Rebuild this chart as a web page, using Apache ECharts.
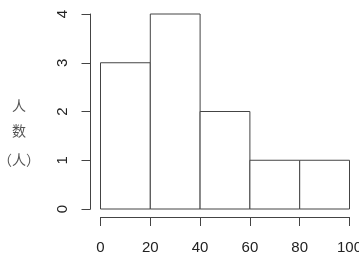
<!DOCTYPE html>
<html><head><meta charset="utf-8">
<script src="https://cdn.jsdelivr.net/npm/echarts@6/dist/echarts.min.js"></script>
<style>html,body{margin:0;padding:0;background:#fff}#c{width:359px;height:255px}</style>
</head><body><div id="c"></div>
<script>
const breaks = [0, 20, 40, 60, 80, 100];
const counts = [3, 4, 2, 1, 1];
const xTicks = [0, 20, 40, 60, 80, 100];
const yTicks = [0, 1, 2, 3, 4];
const yTitleLines = ['人', '数', '（人）'];

const binData = counts.map((c, i) => [breaks[i], breaks[i + 1], c]);
const chart = echarts.init(document.getElementById('c'), null, {renderer: 'canvas'});
const axisColor = '#444';
const titleY = [105.5, 131, 160];
chart.setOption({
  animation: false,
  grid: {left: 100.5, right: 9.5, top: 14, bottom: 46, containLabel: false, outerBoundsMode: 'none'},
  xAxis: {
    type: 'value', min: xTicks[0], max: xTicks[xTicks.length - 1], interval: 20,
    offset: 8,
    axisLine: {show: true, onZero: false, lineStyle: {color: axisColor, width: 1}},
    axisTick: {show: true, length: 9, lineStyle: {color: axisColor}},
    axisLabel: {margin: 23, fontSize: 15, color: '#222', fontFamily: 'Liberation Sans, Arial, sans-serif', showMaxLabel: true, showMinLabel: true, hideOverlap: false},
    splitLine: {show: false}
  },
  yAxis: {
    type: 'value', min: yTicks[0], max: yTicks[yTicks.length - 1], interval: 1,
    offset: 10,
    axisLine: {show: true, onZero: false, lineStyle: {color: axisColor, width: 1}},
    axisTick: {show: true, length: 9, lineStyle: {color: axisColor}},
    axisLabel: {rotate: 90, margin: 20, fontSize: 15, color: '#222', fontFamily: 'Liberation Sans, Arial, sans-serif'},
    splitLine: {show: false}
  },
  graphic: yTitleLines.map((t, i) => ({
    type: 'text', x: 19, y: titleY[i],
    style: {text: t, fontSize: 14, fill: '#555', align: 'center', verticalAlign: 'middle', fontFamily: 'Noto Sans CJK SC, sans-serif'}
  })),
  series: [{
    type: 'custom',
    data: binData,
    renderItem: function (params, api) {
      const p0 = api.coord([api.value(0), 0]);
      const p1 = api.coord([api.value(1), api.value(2)]);
      return {
        type: 'rect',
        shape: {x: p0[0], y: p1[1], width: p1[0] - p0[0], height: p0[1] - p1[1]},
        style: {fill: '#fff', stroke: axisColor, lineWidth: 1}
      };
    },
    encode: {x: [0, 1], y: 2}
  }]
});
</script></body></html>
